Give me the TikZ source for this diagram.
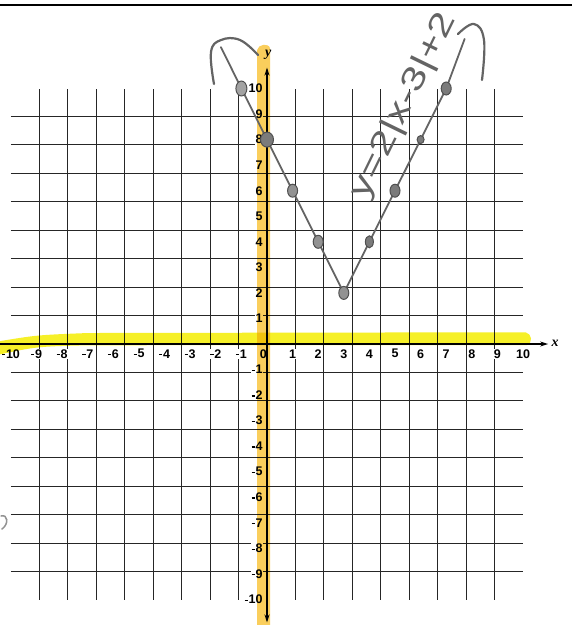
\documentclass[tikz,border=0pt]{standalone}
\usepackage{fontspec}
\setmainfont{Liberation Sans}
\newfontfamily\axisfont{Liberation Serif}
\usetikzlibrary{arrows.meta,shapes.geometric}
\definecolor{hlx}{RGB}{246,240,40}
\definecolor{hly}{RGB}{250,206,92}
\definecolor{pen}{RGB}{100,100,100}
\newcommand\negsign{\raisebox{0.42ex}{\rule{0.26em}{0.11em}}\kern0.06em}
\tikzset{
  gridline/.style={line width=1pt, black!85},
  axisline/.style={line width=1.3pt, black, -{Stealth[length=8pt,width=5pt]}},
  numlab/.style={font=\fontsize{12.5}{13}\selectfont\bfseries, fill=white, inner sep=0.6pt},
  penline/.style={pen, line width=2.2pt, line cap=round, line join=round},
  dotmark/.style={ellipse, draw=pen!80!black, fill=pen!85, line width=1pt, minimum width=10pt, minimum height=13pt, inner sep=0pt},
}
\begin{document}
\begin{tikzpicture}[x=1pt,y=-1pt]
\useasboundingbox (0,0) rectangle (572,625);
\fill[white] (0,0) rectangle (572,625);
\draw[line width=2pt] (0,5) -- (572,5);
\begin{scope}[shift={(267pt,-344pt)},x=25.6pt,y=25.55pt]
  % printed grid
  \draw[gridline] (-10,-10) grid (10,10);
  % x labels
  \foreach \u in {1,...,10} {
    \node[numlab] (xp\u) at (\u,-0.38) {\u};
    \node[numlab] (xn\u) at (-\u,-0.38) {\negsign\u};
  }
  \node[numlab, anchor=east] (x0) at (0.02,-0.38) {0};
  % y labels
  \foreach \v in {1,...,10} {
    \node[numlab, anchor=east] (yp\v) at (-0.14,\v) {\v};
    \node[numlab, anchor=east] (yn\v) at (-0.14,-\v) {\negsign\v};
  }
  % axes
  \coordinate (xa0) at (-10.45,0);
  \coordinate (xa1) at (10.98,0);
  \coordinate (ya0) at (0,-10.9);
  \coordinate (ya1) at (0,10.82);
  \draw[axisline] (xa0) -- (xa1);
  \draw[axisline, {Stealth[length=8pt,width=5pt]}-{Stealth[length=8pt,width=5pt]}] (ya0) -- (ya1);
  \node[font=\fontsize{14}{14}\selectfont\axisfont\bfseries\itshape, anchor=west] (xname) at (10.98,0.03) {x};
  \node[font=\fontsize{14}{14}\selectfont\axisfont\bfseries\itshape] (yname) at (0.05,11.32) {y};
  % highlighter
  \begin{scope}[blend mode=multiply]
    \fill[hlx] (-10.5,0.1) .. controls (-9,0.35) .. (-7,0.43) -- (10.1,0.46)
      .. controls (10.35,0.4) and (10.4,0.05) .. (10.15,-0.04) -- (-7,-0.05)
      .. controls (-9,-0.1) .. (-10.5,-0.42) -- cycle;
    \fill[hly] (-0.39,-11.1) -- (-0.39,11.5) .. controls (-0.35,11.75) and (0.1,11.8) .. (0.12,11.55)
      -- (0.12,-11.1) -- cycle;
  \end{scope}
  % pen: graph
  \coordinate (pA) at (-1,10);
  \coordinate (pV) at (3,2);
  \coordinate (pB) at (7,10);
  \coordinate (pAe) at (-1.8,11.62);
  \coordinate (pBe) at (7.72,11.94);
  \draw[penline, line width=1.8pt] (pAe) -- (pA) -- (pV) -- (pB) -- (pBe);
  \node[dotmark, fill=pen!60, minimum width=11pt, minimum height=15pt] (d1) at (-1,10) {};
  \node[dotmark, minimum width=13pt, minimum height=15pt] (d2) at (0,8) {};
  \node[dotmark, fill=pen!70] (d3) at (1,6) {};
  \node[dotmark, fill=pen!70] (d4) at (2,4) {};
  \node[dotmark, fill=pen!70] (d5) at (3,2) {};
  \node[dotmark, minimum width=8pt, minimum height=12pt] (d6) at (4,4) {};
  \node[dotmark] (d7) at (5,6) {};
  \node[dotmark, minimum width=7pt, minimum height=8pt] (d8) at (6,8) {};
  \node[dotmark] (d9) at (7,10) {};
\end{scope}
% handwritten hook at the top left
\draw[penline] plot[smooth, tension=0.7] coordinates {(214,84) (211,52) (221,40) (240,40) (258,55)};
% handwritten equation
\node[pen, rotate=64, font=\fontsize{32}{32}\selectfont, inner sep=0pt] (eq) at (404,106)
  {\scalebox{1.35}[1]{y=2|x-3|+2}};
\draw[penline] plot[smooth, tension=0.7] coordinates {(458,34) (474,24) (484,40) (482,80)};
% margin mark
\draw[pen!70, line width=1.5pt, line cap=round] (1,516) .. controls (8,514) and (9,524) .. (2,529);
\end{tikzpicture}
\end{document}
